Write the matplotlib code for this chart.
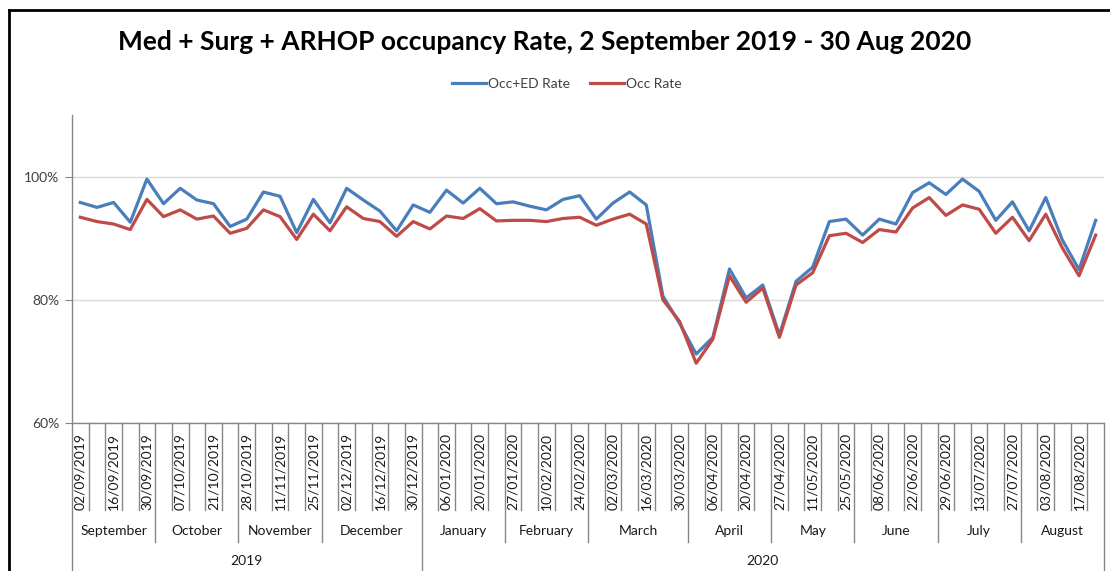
import matplotlib
matplotlib.use("Agg")
import matplotlib.pyplot as plt
from matplotlib.lines import Line2D
from matplotlib.transforms import blended_transform_factory

plt.rcParams["font.family"] = ["Lato", "DejaVu Sans"]

# week start dates; a week that spans two months appears in both months
weeks = [
    "02/09/2019", "09/09/2019", "16/09/2019", "23/09/2019", "30/09/2019",
    "30/09/2019", "07/10/2019", "14/10/2019", "21/10/2019", "28/10/2019",
    "28/10/2019", "04/11/2019", "11/11/2019", "18/11/2019", "25/11/2019",
    "25/11/2019", "02/12/2019", "09/12/2019", "16/12/2019", "23/12/2019", "30/12/2019",
    "30/12/2019", "06/01/2020", "13/01/2020", "20/01/2020", "27/01/2020",
    "27/01/2020", "03/02/2020", "10/02/2020", "17/02/2020", "24/02/2020",
    "24/02/2020", "02/03/2020", "09/03/2020", "16/03/2020", "23/03/2020", "30/03/2020",
    "30/03/2020", "06/04/2020", "13/04/2020", "20/04/2020", "27/04/2020",
    "27/04/2020", "04/05/2020", "11/05/2020", "18/05/2020", "25/05/2020",
    "01/06/2020", "08/06/2020", "15/06/2020", "22/06/2020", "29/06/2020",
    "29/06/2020", "06/07/2020", "13/07/2020", "20/07/2020", "27/07/2020",
    "27/07/2020", "03/08/2020", "10/08/2020", "17/08/2020", "24/08/2020",
]
months = ["September", "October", "November", "December", "January", "February",
          "March", "April", "May", "June", "July", "August"]
month_sizes = [5, 5, 5, 6, 5, 5, 6, 5, 5, 5, 5, 5]
years = ["2019", "2020"]
year_months = [4, 8]

occ_ed = [95.8, 95.0, 95.8, 92.6, 99.6, 95.6, 98.1, 96.2, 95.6, 91.9,
          93.1, 97.5, 96.8, 90.9, 96.3, 92.5, 98.1, 96.2, 94.4, 91.2,
          95.4, 94.2, 97.8, 95.7, 98.1, 95.6, 95.9, 95.2, 94.6, 96.3,
          96.9, 93.1, 95.7, 97.5, 95.4, 80.6, 76.2, 71.2, 73.9, 85.0,
          80.3, 82.4, 74.3, 83.0, 85.3, 92.7, 93.1, 90.5, 93.1, 92.3,
          97.4, 99.0, 97.1, 99.6, 97.6, 92.9, 95.9, 91.2, 96.6, 89.7,
          84.9, 92.9]
occ = [93.4, 92.7, 92.3, 91.4, 96.3, 93.5, 94.6, 93.1, 93.6, 90.8,
       91.6, 94.6, 93.5, 89.8, 93.9, 91.2, 95.1, 93.2, 92.7, 90.3,
       92.7, 91.5, 93.6, 93.2, 94.8, 92.8, 92.9, 92.9, 92.7, 93.2,
       93.4, 92.1, 93.1, 93.9, 92.3, 80.0, 76.5, 69.7, 73.6, 83.9,
       79.6, 81.9, 73.9, 82.4, 84.4, 90.4, 90.8, 89.3, 91.4, 91.0,
       94.9, 96.6, 93.7, 95.4, 94.7, 90.8, 93.4, 89.6, 93.9, 88.4,
       83.9, 90.5]

W, H = 1110, 571
fig = plt.figure(figsize=(W / 100, H / 100), dpi=100)
ax_l, ax_r, ax_t, ax_b = 72, 1104, 115, 423
ax = fig.add_axes([ax_l / W, 1 - ax_b / H, (ax_r - ax_l) / W, (ax_b - ax_t) / H])

x = list(range(len(weeks)))
ax.plot(x, occ_ed, color="#4A7EBB", lw=2.3, label="Occ+ED Rate", solid_joinstyle="round")
ax.plot(x, occ, color="#BE4B48", lw=2.3, label="Occ Rate", solid_joinstyle="round")

ax.set_xlim(-0.5, len(weeks) - 0.5)
ax.set_ylim(60, 110)
ax.set_yticks([60, 80, 100])
ax.set_yticklabels(["60%", "80%", "100%"], color="#404040", fontsize=10)
ax.tick_params(axis="y", length=5, color="#868686", pad=4)
ax.grid(axis="y", color="#D9D9D9", lw=1)
ax.set_axisbelow(True)
ax.set_xticks([])
for s in ["top", "right"]:
    ax.spines[s].set_visible(False)
for s in ["left", "bottom"]:
    ax.spines[s].set_color("#868686")
    ax.spines[s].set_linewidth(1)

# multi-level category axis
ph = ax_b - ax_t
def fy(ypx):
    return (ax_b - ypx) / ph

tr = blended_transform_factory(ax.transData, ax.transAxes)
month_starts = [0]
for n in month_sizes:
    month_starts.append(month_starts[-1] + n)
year_starts = [0]
m0 = 0
for n in year_months:
    year_starts.append(year_starts[-1] + sum(month_sizes[m0:m0 + n]))
    m0 += n

for b in range(len(weeks) + 1):
    if b in year_starts:
        y_end = fy(575)
    elif b in month_starts:
        y_end = fy(542)
    else:
        y_end = fy(510)
    ax.plot([b - 0.5, b - 0.5], [0, y_end], transform=tr, color="#868686",
            lw=1, clip_on=False)

for i, w in enumerate(weeks):
    if i % 2 == 0:
        ax.text(i, fy(433), w, transform=tr, rotation=90, ha="center", va="top",
                fontsize=10, color="#1a1a1a")

for m, a, b in zip(months, month_starts[:-1], month_starts[1:]):
    ax.text((a + b - 1) / 2, fy(531), m, transform=tr, ha="center", va="center",
            fontsize=10, color="#1a1a1a")

for yname, a, b in zip(years, year_starts[:-1], year_starts[1:]):
    ax.text((a + b - 1) / 2, fy(561), yname, transform=tr, ha="center",
            va="center", fontsize=10, color="#1a1a1a")

fig.text(545 / W, 1 - 42 / H, "Med + Surg + ARHOP occupancy Rate, 2 September 2019 - 30 Aug 2020",
         ha="center", va="center", fontsize=19, fontweight="bold", color="#000000")

leg = fig.legend(loc="center", bbox_to_anchor=(567 / W, 1 - 84 / H), ncol=2,
                 frameon=False, fontsize=10, handlelength=2.45, columnspacing=1.45,
                 handletextpad=0.15)
for t in leg.get_texts():
    t.set_color("#404040")

# chart area border (left and top visible)
fig.add_artist(Line2D([9 / W, 9 / W], [0, 1 - 10 / H], transform=fig.transFigure,
                      color="black", lw=2))
fig.add_artist(Line2D([9 / W, 1], [1 - 10 / H, 1 - 10 / H], transform=fig.transFigure,
                      color="black", lw=2))

fig.savefig("out.png", dpi=100)
